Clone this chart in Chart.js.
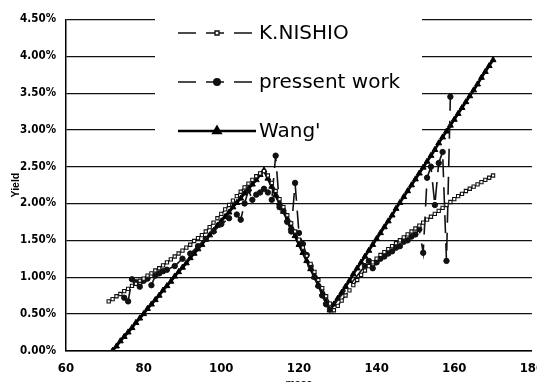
<!DOCTYPE html>
<html>
<head>
<meta charset="utf-8">
<title>Yield vs mass</title>
<script src="https://cdn.jsdelivr.net/npm/chart.js@4.4.1/dist/chart.umd.min.js"></script>
<style>
  html, body { margin: 0; padding: 0; background: #fff; }
  #wrap { width: 537px; height: 382px; }
</style>
</head>
<body>
<div id="wrap"><canvas id="c" width="537" height="382"></canvas></div>
<script>
// Series names, in legend order
const seriesLabels = ['K.NISHIO', 'pressent work', "Wang'"];

// K.NISHIO: mass number and yield (%)
const nishioMass = [71,72,73,74,75,76,77,78,79,80,81,82,83,84,85,86,87,88,89,90,
  91,92,93,94,95,96,97,98,99,100,101,102,103,104,105,106,107,108,109,110,
  111,112,113,114,115,116,117,118,119,120,121,122,123,124,125,126,127,128,129,130,
  131,132,133,134,135,136,137,138,139,140,141,142,143,144,145,146,147,148,149,150,
  151,152,153,154,155,156,157,158,159,160,161,162,163,164,165,166,167,168,169,170];
const nishioYield = [0.67,0.70,0.74,0.77,0.81,0.84,0.88,0.91,0.95,0.98,1.02,1.05,1.09,1.12,1.16,1.20,1.24,1.28,1.32,1.36,
  1.40,1.44,1.49,1.53,1.57,1.62,1.68,1.74,1.80,1.86,1.92,1.98,2.04,2.10,2.16,2.22,2.27,2.32,2.37,2.41,
  2.44,2.38,2.28,2.17,2.06,1.95,1.84,1.73,1.62,1.51,1.40,1.29,1.18,1.07,0.96,0.85,0.74,0.64,0.55,0.61,
  0.68,0.75,0.82,0.89,0.96,1.03,1.09,1.15,1.20,1.25,1.30,1.34,1.38,1.42,1.46,1.50,1.54,1.58,1.62,1.66,
  1.70,1.74,1.78,1.82,1.86,1.90,1.94,1.98,2.02,2.06,2.10,2.13,2.17,2.20,2.23,2.26,2.29,2.32,2.35,2.38];

// Present work: mass number and yield (%)
const workMass = [75,76,77,78,79,80,81,82,83,84,85,86,88,90,92,94,96,98,100,102,
  104,105,106,107,108,109,110,111,112,113,114,115,116,117,118,119,120,121,122,123,
  124,125,126,127,128,137,138,139,140,141,142,143,144,145,146,147,148,149,150,151,
  152,153,154,155,156,157,158,159];
const workYield = [0.72,0.67,0.97,0.93,0.87,0.95,0.98,0.89,1.02,1.05,1.08,1.10,1.15,1.25,1.32,1.42,1.52,1.62,1.72,1.80,
  1.85,1.78,2.00,2.18,2.05,2.12,2.15,2.20,2.15,2.05,2.65,1.95,1.90,1.75,1.62,2.28,1.60,1.45,1.30,1.15,
  1.00,0.88,0.75,0.63,0.56,1.15,1.22,1.12,1.20,1.25,1.28,1.32,1.35,1.40,1.42,1.48,1.50,1.55,1.58,1.65,
  1.33,2.35,2.50,1.98,2.55,2.70,1.22,3.45];

// Wang': mass number and yield (%)
const wangMass = [72,73,74,75,76,77,78,79,80,81,82,83,84,85,86,87,88,89,90,91,
  92,93,94,95,96,97,98,99,100,101,102,103,104,105,106,107,108,109,110,111,
  112,113,114,115,116,117,118,119,120,121,122,123,124,125,126,127,128,129,130,131,
  132,133,134,135,136,137,138,139,140,141,142,143,144,145,146,147,148,149,150,151,
  152,153,154,155,156,157,158,159,160,161,162,163,164,165,166,167,168,169,170];
const wangYield = [0.00,0.06,0.13,0.19,0.25,0.31,0.38,0.44,0.50,0.57,0.63,0.69,0.75,0.82,0.88,0.94,1.01,1.07,1.13,1.19,
  1.26,1.32,1.38,1.44,1.51,1.57,1.63,1.70,1.76,1.82,1.88,1.95,2.01,2.07,2.14,2.20,2.26,2.32,2.39,2.45,
  2.34,2.23,2.11,2.00,1.89,1.78,1.67,1.56,1.44,1.33,1.22,1.11,1.00,0.89,0.77,0.66,0.55,0.63,0.71,0.79,
  0.87,0.95,1.04,1.12,1.20,1.28,1.36,1.44,1.52,1.60,1.68,1.76,1.84,1.93,2.01,2.09,2.17,2.25,2.33,2.41,
  2.49,2.57,2.65,2.73,2.82,2.90,2.98,3.06,3.14,3.22,3.30,3.38,3.46,3.54,3.62,3.71,3.79,3.87,3.95];

// Axis ranges
const massRange = { min: 60, max: 180, step: 20 };
const yieldRange = { min: 0, max: 4.5, step: 0.5 };

const toPoints = (xs, ys) => xs.map((x, i) => ({ x: x, y: ys[i] }));

const tickFont = '"Liberation Sans Narrow", "DejaVu Sans Condensed", "Liberation Sans", sans-serif';
const titleFont = '"Liberation Sans", Arial, sans-serif';

// Boxed legend drawn inside the plot, above the grid but under the data
const insetLegend = {
  id: 'insetLegend',
  beforeDatasetsDraw(chart) {
    const ctx = chart.ctx;
    const rows = [33, 82, 131];
    ctx.save();
    ctx.fillStyle = '#fff';
    ctx.fillRect(155, 6, 267, 146);
    chart.data.datasets.forEach((ds, i) => {
      const y = rows[i];
      ctx.strokeStyle = ds.borderColor;
      ctx.lineWidth = ds.borderWidth;
      ctx.setLineDash(ds.borderDash || []);
      ctx.beginPath();
      ctx.moveTo(178, y);
      ctx.lineTo(256, y);
      ctx.stroke();
      ctx.setLineDash([]);
      ctx.fillStyle = ds.pointBackgroundColor;
      ctx.strokeStyle = ds.pointBorderColor;
      Chart.helpers.drawPoint(ctx, {
        pointStyle: ds.pointStyle,
        radius: ds.pointRadius + 0.5,
        rotation: 0,
        borderWidth: ds.pointBorderWidth
      }, 217, y);
      ctx.fillStyle = '#000';
      ctx.font = '20px "DejaVu Sans", sans-serif';
      ctx.textBaseline = 'middle';
      ctx.textAlign = 'left';
      ctx.fillText(ds.label, 259, y + 1);
    });
    ctx.restore();
  }
};

new Chart(document.getElementById('c'), {
  type: 'line',
  data: {
    datasets: [
      {
        label: seriesLabels[0],
        data: toPoints(nishioMass, nishioYield),
        borderColor: '#111',
        borderWidth: 1.4,
        borderDash: [18, 10],
        pointStyle: 'rect',
        pointRadius: 2.3,
        pointBackgroundColor: '#fff',
        pointBorderColor: '#111',
        pointBorderWidth: 1.1,
        tension: 0
      },
      {
        label: seriesLabels[1],
        data: toPoints(workMass, workYield),
        borderColor: '#111',
        borderWidth: 1.6,
        borderDash: [18, 10],
        pointStyle: 'circle',
        pointRadius: 2.7,
        pointBackgroundColor: '#111',
        pointBorderColor: '#111',
        pointBorderWidth: 1,
        tension: 0
      },
      {
        label: seriesLabels[2],
        data: toPoints(wangMass, wangYield),
        borderColor: '#000',
        borderWidth: 2.6,
        borderDash: [],
        pointStyle: 'triangle',
        pointRadius: 3.4,
        pointBackgroundColor: '#000',
        pointBorderColor: '#000',
        pointBorderWidth: 1,
        tension: 0
      }
    ]
  },
  options: {
    responsive: false,
    animation: false,
    events: [],
    layout: { padding: { top: 19.5, right: 5, bottom: 0, left: 0 } },
    plugins: {
      legend: { display: false },
      tooltip: { enabled: false }
    },
    scales: {
      x: {
        type: 'linear',
        min: massRange.min,
        max: massRange.max,
        grid: { display: false, drawTicks: false },
        border: { display: true, color: '#000', width: 1.5 },
        ticks: {
          stepSize: massRange.step,
          padding: 10,
          color: '#000',
          font: { family: tickFont, size: 13, weight: 'bold' },
          callback: v => String(v)
        },
        title: {
          display: true,
          text: 'mass',
          color: '#000',
          font: { family: titleFont, size: 10.5, weight: 'bold' },
          padding: { top: 0, bottom: -8 }
        },
        afterFit(s) { s.height = 31.3; s.paddingLeft = 0; s.paddingRight = 0; }
      },
      y: {
        min: yieldRange.min,
        max: yieldRange.max,
        grid: { display: true, drawTicks: false, color: '#111', lineWidth: 1.2 },
        border: { display: true, color: '#000', width: 1.5 },
        ticks: {
          stepSize: yieldRange.step,
          padding: 10,
          color: '#000',
          font: { family: tickFont, size: 11.5, weight: 'bold' },
          callback: v => v.toFixed(2) + '%'
        },
        title: {
          display: true,
          text: 'Yield',
          color: '#000',
          font: { family: titleFont, size: 10.5, weight: 'bold' },
          padding: { top: 10, bottom: 0 }
        },
        afterFit(s) { s.width = 66; s.paddingTop = 0; s.paddingBottom = 0; }
      }
    }
  },
  plugins: [insetLegend]
});
</script>
</body>
</html>
